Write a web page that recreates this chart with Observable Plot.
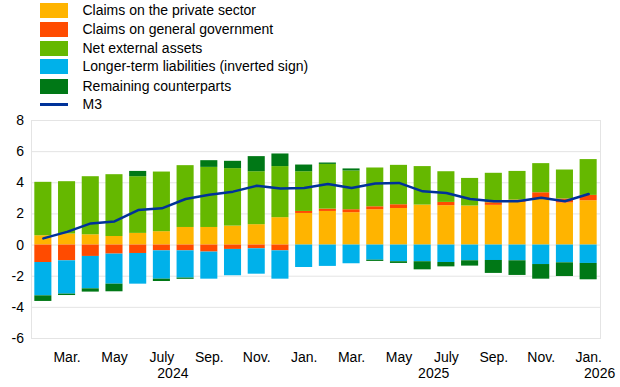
<!DOCTYPE html>
<html>
<head>
<meta charset="utf-8">
<script src="https://cdn.jsdelivr.net/npm/d3@7"></script>
<script src="https://cdn.jsdelivr.net/npm/@observablehq/plot@0.6"></script>
<style>
  html, body { margin: 0; padding: 0; background: #fff; }
  body { width: 620px; height: 387px; overflow: hidden; font-family: "Liberation Sans", Arial, sans-serif; }
  #legend { position: relative; height: 113px; font-size: 14px; color: #000; }
  .row { position: absolute; left: 40px; height: 15px; }
  .sw { position: absolute; left: 0; top: 0; width: 28px; height: 15px; }
  .ln { position: absolute; left: 0; top: 6px; width: 28px; height: 3px; }
  .lb { position: absolute; left: 42.5px; top: -1px; white-space: nowrap; line-height: 17px; }
</style>
</head>
<body>
<div id="legend"></div>
<div id="chart"></div>
<script>
const months = ["2024-02","2024-03","2024-04","2024-05","2024-06","2024-07","2024-08","2024-09","2024-10","2024-11","2024-12",
  "2025-01","2025-02","2025-03","2025-04","2025-05","2025-06","2025-07","2025-08","2025-09","2025-10","2025-11","2025-12","2026-01"];
const privateSector = [0.60,0.71,0.66,0.55,0.75,0.86,1.13,1.13,1.22,1.31,1.76,2.03,2.16,2.08,2.27,2.35,2.57,2.53,2.51,2.55,2.74,2.98,2.70,2.85];
const generalGov    = [-1.12,-1.01,-0.73,-0.58,-0.54,-0.37,-0.37,-0.45,-0.28,-0.24,-0.37,0.13,0.15,0.19,0.19,0.24,0.00,0.21,0.00,0.17,0.15,0.38,0.26,0.34];
const netExternal   = [3.43,3.36,3.73,3.97,3.64,3.83,3.97,3.86,3.69,3.40,3.28,2.55,2.87,2.49,2.49,2.53,2.47,1.97,1.77,1.89,1.84,1.87,1.86,2.30];
const longerTerm    = [-2.14,-2.14,-2.08,-1.93,-1.97,-1.82,-1.75,-1.74,-1.69,-1.63,-1.82,-1.44,-1.37,-1.20,-0.97,-1.07,-1.07,-1.12,-1.01,-0.99,-1.01,-1.25,-1.14,-1.18];
const remaining     = [-0.36,-0.09,-0.21,-0.49,0.34,-0.15,-0.08,0.43,0.47,0.97,0.81,0.43,0.09,0.13,-0.08,-0.11,-0.52,-0.28,-0.34,-0.83,-0.94,-0.94,-0.88,-1.05];
const m3            = [0.43,0.85,1.39,1.52,2.25,2.36,2.96,3.23,3.43,3.81,3.64,3.66,3.92,3.67,3.96,3.99,3.45,3.34,2.96,2.81,2.81,3.04,2.81,3.28];

const seriesNames = ["Claims on the private sector","Claims on general government","Net external assets","Longer-term liabilities (inverted sign)","Remaining counterparts"];
const seriesColors = ["#FFB400","#FF4B00","#65B800","#00B1EA","#007816"];
const lineName = "M3";
const lineColor = "#003299";

const tickMonths = ["2024-03","2024-05","2024-07","2024-09","2024-11","2025-01","2025-03","2025-05","2025-07","2025-09","2025-11","2026-01"];
const tickLabels = ["Mar.","May","July","Sep.","Nov.","Jan.","Mar.","May","July","Sep.","Nov.","Jan."];
const yearLabels = ["2024","2025","2026"];
const yearAnchorMonths = ["2024-07","2025-06","2026-01"];
const yTicks = [-6,-4,-2,0,2,4,6,8];

// legend
const legend = document.getElementById("legend");
const rowY = [2.5, 21.5, 40.5, 59.2, 78.5, 96.5];
seriesNames.forEach((n, i) => {
  const r = document.createElement("div");
  r.className = "row"; r.style.top = rowY[i] + "px";
  r.innerHTML = `<div class="sw" style="background:${seriesColors[i]}"></div><div class="lb">${n}</div>`;
  legend.appendChild(r);
});
{
  const r = document.createElement("div");
  r.className = "row"; r.style.top = rowY[5] + "px";
  r.innerHTML = `<div class="ln" style="background:${lineColor}"></div><div class="lb">${lineName}</div>`;
  legend.appendChild(r);
}

// data table
const seriesValues = [privateSector, generalGov, netExternal, longerTerm, remaining];
const table = [];
seriesValues.forEach((vals, s) => {
  vals.forEach((v, i) => table.push({month: months[i], series: seriesNames[s], value: v}));
});
const lineData = m3.map((v, i) => ({month: months[i], value: v}));
const tickLabelMap = new Map(tickMonths.map((m, i) => [m, tickLabels[i]]));
const yearData = yearLabels.map((y, i) => ({month: yearAnchorMonths[i], label: y}));

const chart = Plot.plot({
  width: 620,
  height: 274,
  marginLeft: 31,
  marginRight: 20,
  marginTop: 7,
  marginBottom: 49,
  style: {fontFamily: "'Liberation Sans', Arial, sans-serif", fontSize: "14px", color: "#000", background: "#fff"},
  x: {type: "band", domain: months, paddingInner: 0.28, paddingOuter: 0.14, round: false, label: null, axis: null},
  y: {domain: [-6, 8], label: null, axis: null},
  color: {domain: seriesNames, range: seriesColors},
  marks: [
    Plot.gridY(yTicks, {stroke: "#e4e4e4", strokeOpacity: 1, strokeWidth: 1}),
    Plot.frame({stroke: "#e4e4e4", strokeWidth: 1}),
    Plot.barY(table, {x: "month", y: "value", fill: "series"}),
    Plot.lineY(lineData, {x: "month", y: "value", stroke: lineColor, strokeWidth: 2.5, strokeLinejoin: "round", strokeLinecap: "round"}),
    Plot.axisY(yTicks, {tickSize: 0, tickPadding: 7.5, tickFormat: d => String(d), label: null, fontSize: 14}),
    Plot.axisX(tickMonths, {tickSize: 0, tickPadding: 14, tickFormat: d => tickLabelMap.get(d), label: null, fontSize: 14}),
    Plot.text(yearData, {x: "month", text: "label", frameAnchor: "bottom", lineAnchor: "top", dy: 29.7, dx: 11, fontSize: 14, fill: "#000"})
  ]
});
document.getElementById("chart").appendChild(chart);
</script>
</body>
</html>
